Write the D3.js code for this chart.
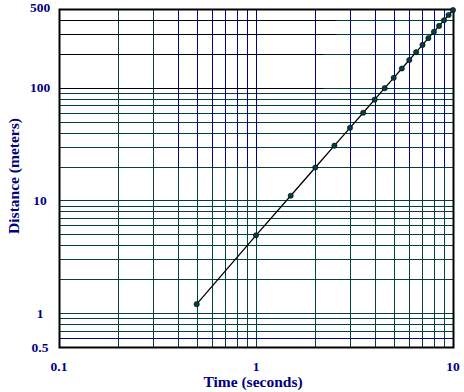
<!DOCTYPE html>
<html>
<head>
<meta charset="utf-8">
<script src="https://cdn.jsdelivr.net/npm/d3@7"></script>
<style>
  body { margin: 0; background: #fff; }
  svg { display: block; font-family: "Liberation Serif", "Times New Roman", serif; }
</style>
</head>
<body>
<div id="chart"></div>
<script>
// time (s) and distance (m)
const times = [0.5, 1, 1.5, 2, 2.5, 3, 3.5, 4, 4.5, 5, 5.5, 6, 6.5, 7, 7.5, 8, 8.5, 9, 9.5, 10];
const distances = [1.2, 4.9, 11.0, 19.6, 30.6, 44.1, 60.0, 78.4, 99.2, 122.5, 148.2, 176.4, 207.0, 240.1, 275.6, 313.6, 354.0, 396.9, 442.2, 490];

const xTickLabels = [0.1, 1, 10];
const yTickLabels = [500, 100, 10, 1, 0.5];

// grid values
const xGrid = [0.2, 0.3, 0.4, 0.5, 0.6, 0.7, 0.8, 0.9, 1, 2, 3, 4, 5, 6, 7, 8, 9];
const yGrid = [0.7, 0.8, 0.9, 1, 2, 3, 4, 5, 6, 7, 8, 9, 10, 20, 30, 40, 50, 60, 70, 80, 90, 100, 200, 300, 400];
const xBlueGrid = [0.4, 0.5, 0.6, 0.7, 0.8, 0.9, 1, 2, 3, 4, 5, 6, 7, 8, 9];
const yBlueGrid = [0.6];
const yBlackGrid = [400, 300, 200, 100];
const blackGridEnds = [2.55, 2.55, 2.2, 2.2];

const width = 464, height = 392;
const margin = { top: 9, right: 11, bottom: 45, left: 59 };

const green = "#004040", blue = "#000090", labelColor = "#000080";

const svg = d3.select("#chart").append("svg")
    .attr("width", width)
    .attr("height", height);

const x = d3.scaleLog()
    .domain([0.1, 10])
    .range([margin.left, width - margin.right]);

const y = d3.scaleLog()
    .domain([0.5, 500])
    .range([height - margin.bottom, margin.top]);

// snap to pixel centres so every grid line is one crisp pixel
const px = v => Math.round(x(v)) + 0.5;
const py = v => Math.round(y(v)) + 0.5;

const grid = svg.append("g").attr("stroke-width", 1);

// green full grid
grid.selectAll(".vg")
    .data(xGrid)
    .join("line")
    .attr("x1", px).attr("x2", px)
    .attr("y1", py(500)).attr("y2", py(0.5))
    .attr("stroke", green);

grid.selectAll(".hg")
    .data(yGrid)
    .join("line")
    .attr("x1", px(0.1)).attr("x2", px(10))
    .attr("y1", py).attr("y2", py)
    .attr("stroke", green);

// blue overlays
grid.selectAll(".vb")
    .data(xBlueGrid)
    .join("line")
    .attr("x1", px).attr("x2", px)
    .attr("y1", py(500)).attr("y2", py(20))
    .attr("stroke", blue);

grid.selectAll(".hb")
    .data(yBlueGrid)
    .join("line")
    .attr("x1", px(0.1)).attr("x2", px(10))
    .attr("y1", py).attr("y2", py)
    .attr("stroke", blue);

// black overlays
grid.selectAll(".hk")
    .data(yBlackGrid)
    .join("line")
    .attr("x1", px(0.1)).attr("x2", (d, i) => px(blackGridEnds[i]))
    .attr("y1", py).attr("y2", py)
    .attr("stroke", "#000");

// frame
svg.append("rect")
    .attr("x", px(0.1)).attr("y", py(500))
    .attr("width", px(10) - px(0.1))
    .attr("height", py(0.5) - py(500))
    .attr("fill", "none")
    .attr("stroke", "#000")
    .attr("stroke-width", 2);

// data line and points
const data = times.map((t, i) => ({ t, d: distances[i] }));

svg.append("path")
    .datum(data)
    .attr("fill", "none")
    .attr("stroke", "#000")
    .attr("stroke-width", 1.3)
    .attr("d", d3.line().x(d => x(d.t)).y(d => y(d.d)));

svg.selectAll(".pt")
    .data(data)
    .join("circle")
    .attr("cx", d => x(d.t))
    .attr("cy", d => y(d.d))
    .attr("r", 2.6)
    .attr("fill", green)
    .attr("stroke", "#000")
    .attr("stroke-width", 0.6);

// tick labels
svg.selectAll(".ylab")
    .data(yTickLabels)
    .join("text")
    .attr("x", 40)
    .attr("y", d => y(d))
    .attr("dy", d => d === 500 ? "0.2em" : "0.35em")
    .attr("text-anchor", "middle")
    .attr("fill", labelColor)
    .attr("font-weight", "bold")
    .attr("font-size", 13.5)
    .text(d => d);

svg.selectAll(".xlab")
    .data(xTickLabels)
    .join("text")
    .attr("x", d => x(d))
    .attr("y", 371)
    .attr("text-anchor", "middle")
    .attr("fill", labelColor)
    .attr("font-weight", "bold")
    .attr("font-size", 13.5)
    .text(d => d);

// axis titles
svg.append("text")
    .attr("x", 253)
    .attr("y", 387)
    .attr("text-anchor", "middle")
    .attr("fill", labelColor)
    .attr("font-weight", "bold")
    .attr("font-size", 15.5)
    .text("Time (seconds)");

svg.append("text")
    .attr("transform", "translate(19,176) rotate(-90)")
    .attr("text-anchor", "middle")
    .attr("fill", labelColor)
    .attr("font-weight", "bold")
    .attr("font-size", 15.5)
    .text("Distance (meters)");
</script>
</body>
</html>
